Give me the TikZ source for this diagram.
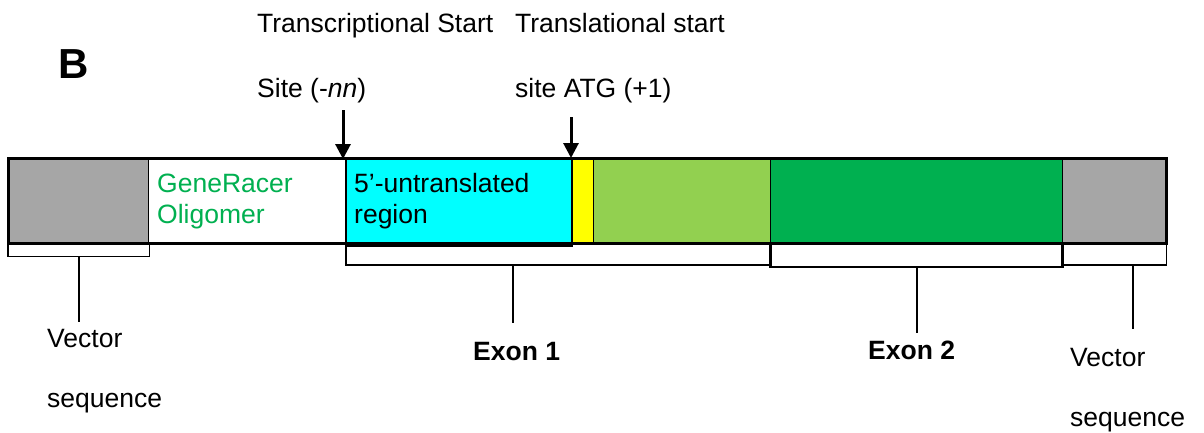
\documentclass[tikz,border=0pt]{standalone}
\usepackage{fontspec}
\setmainfont{Liberation Sans}
\usepackage{tikz}
\usetikzlibrary{graphs}
\usetikzlibrary{arrows.meta}
\usepackage{xcolor}

\definecolor{vecgray}{HTML}{A6A6A6}
\definecolor{utrcyan}{HTML}{00FFFF}
\definecolor{atgyellow}{HTML}{FFFF00}
\definecolor{exonlight}{HTML}{92D050}
\definecolor{exondark}{HTML}{00B050}

\tikzset{
    seg/.style={draw=black, line width=1.2pt, minimum height=84pt, inner sep=0pt, anchor=west},
    lbl/.style={anchor=base west, inner sep=0pt, align=left, font=\fontsize{26.5}{30.5}\selectfont},
    bracketline/.style={draw=black, line width=1.3pt},
    sitearrow/.style={line width=3pt, -{Triangle[width=15pt,length=15pt]}},
}

\begin{document}
\begin{tikzpicture}[x=1pt, y=-1pt]
            \useasboundingbox (0,0) rectangle (1204,432);

            \node[seg, fill=vecgray, minimum width=140pt] (vec_l) at (8,201) {};
            \node[seg, fill=white, minimum width=198pt] (oligo) at (148,201) {};
            \node[seg, fill=utrcyan, minimum width=225pt, minimum height=86pt] (utr) at (346,202) {};
            \node[seg, fill=atgyellow, minimum width=22pt] (atg) at (571,201) {};
            \node[seg, fill=exonlight, minimum width=177pt] (ex1_cds) at (593,201) {};
            \node[seg, fill=exondark, minimum width=292pt] (ex2) at (770,201) {};
            \node[seg, fill=vecgray, minimum width=103pt] (vec_r) at (1062,201) {};

            \node[lbl, font=\fontsize{42}{42}\selectfont\bfseries] (panel) at (58,78) {B};
            \node[lbl, font=\fontsize{26.5}{65}\selectfont] (tss_lbl) at (257,97) {Transcriptional Start\\Site (-\textit{nn})};
            \node[lbl, font=\fontsize{26.5}{65}\selectfont] (atg_lbl) at (515,97) {Translational start\\site ATG (+1)};
            \node[lbl, text=exondark] (oligo_lbl) at (157,223) {GeneRacer\\Oligomer};
            \node[lbl] (utr_lbl) at (354,223) {5’-untranslated\\region};
            \node[lbl, font=\fontsize{26.5}{60}\selectfont] (vec_l_lbl) at (47,407) {Vector\\sequence};
            \node[lbl, font=\fontsize{26.5}{30}\selectfont\bfseries] (ex1_lbl) at (473,360) {Exon 1};
            \node[lbl, font=\fontsize{26.5}{30}\selectfont\bfseries] (ex2_lbl) at (868,359) {Exon 2};
            \node[lbl, font=\fontsize{26.5}{60}\selectfont] (vec_r_lbl) at (1070,426) {Vector\\sequence};

            \coordinate (tss_top) at (343,110);
            \coordinate (tss_tip) at (343,159);
            \coordinate (atg_top) at (571,117);
            \coordinate (atg_tip) at (571,158);
            \coordinate (vec_l_mid) at (79,256);
            \coordinate (vec_l_end) at (79,322);
            \coordinate (ex1_mid) at (513,265);
            \coordinate (ex1_end) at (513,323);
            \coordinate (ex2_mid) at (917,267);
            \coordinate (ex2_end) at (917,333);
            \coordinate (vec_r_mid) at (1133,265);
            \coordinate (vec_r_end) at (1133,329);

            \draw[line width=3pt] (vec_l.north west) rectangle (vec_r.south east);
            \draw[line width=2.5pt] (utr.north west) rectangle (utr.south east);

            \draw[bracketline] (vec_l.south west) -- ++(0,13) -| (vec_l.south east);
            \draw[bracketline] (utr.south west) -- (utr.south west |- ex1_mid) -| (ex1_cds.south east);
            \draw[bracketline] (ex2.south west) -- (ex2.south west |- ex2_mid) -| (ex2.south east);
            \draw[bracketline] (vec_r.south west) -- (vec_r.south west |- vec_r_mid) -| (vec_r.south east);

            \graph {(tss_top) ->[sitearrow] (tss_tip)};
            \graph {(atg_top) ->[sitearrow] (atg_tip)};
            \graph {(vec_l_mid) --[bracketline] (vec_l_end)};
            \graph {(ex1_mid) --[bracketline] (ex1_end)};
            \graph {(ex2_mid) --[bracketline] (ex2_end)};
            \graph {(vec_r_mid) --[bracketline] (vec_r_end)};
\end{tikzpicture}
\end{document}
